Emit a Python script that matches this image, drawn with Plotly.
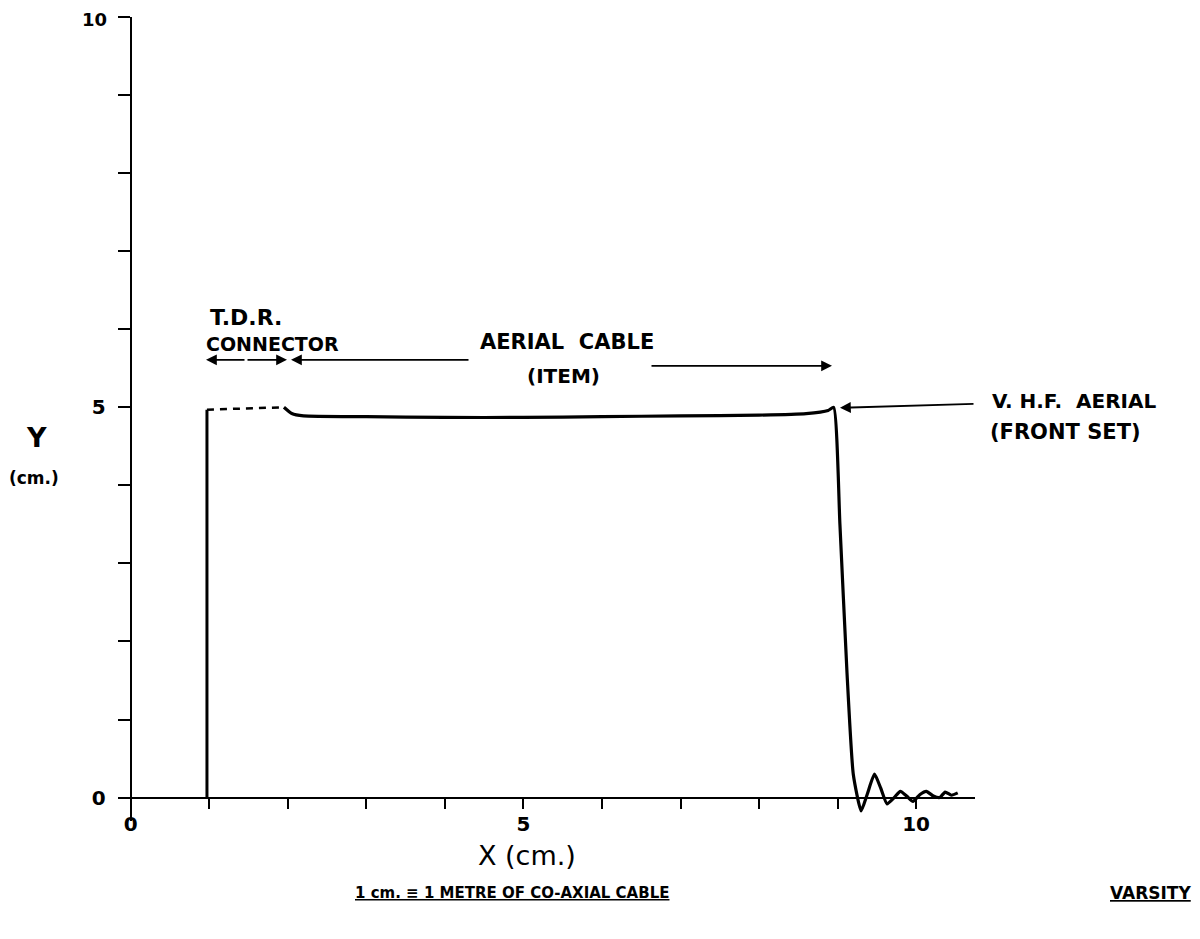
import plotly.graph_objects as go

# ---------------- data ----------------
# step rise at the T.D.R. connector
rise_x = [0.97, 0.97]
rise_y = [0.0, 4.97]
# dashed connector section
conn_x = [0.97, 1.95]
conn_y = [4.97, 5.0]
# aerial cable section, fall and ringing
cable_x = [1.95, 2.05, 2.2, 3.0, 4.0, 5.0, 6.0, 7.0, 8.0, 8.6, 8.88, 8.95,
           9.03, 9.12, 9.2, 9.3, 9.38, 9.47, 9.55, 9.63, 9.72, 9.8, 9.88,
           9.96, 10.05, 10.13, 10.22, 10.3, 10.37, 10.45, 10.53]
cable_y = [5.0, 4.92, 4.89, 4.88, 4.87, 4.87, 4.88, 4.89, 4.9, 4.92, 4.96, 5.0,
           3.5, 1.6, 0.3, -0.17, 0.05, 0.3, 0.12, -0.08, 0.0, 0.08, 0.02,
           -0.05, 0.04, 0.08, 0.02, 0.0, 0.07, 0.03, 0.06]

x_ticks = list(range(0, 11))
x_ticklabels = ["0", "", "", "", "", "5", "", "", "", "", "10"]
y_ticks = list(range(0, 11))
# top label "10" is drawn separately so it stays inside the page
y_ticklabels = ["0", "", "", "", "", "5", "", "", "", "", ""]
y_top_label = "10"

x_range = [-0.15, 10.75]
y_range = [-0.3, 10.0]

FONT = "DejaVu Sans"
BLACK = "#000000"

# page layout (page pixels); the browser's body margin shifts the figure by 8px
OFF = 8
W, H = 1184, 923
plot_left, plot_right = 119, 975          # page px for x_range ends
plot_top, plot_bottom = 17, 821.4         # page px for y_range ends
L = plot_left - OFF
R = W - (plot_right - OFF)
T = plot_top - OFF
B = H - (plot_bottom - OFF)

fig = go.Figure()
fig.add_trace(go.Scatter(x=rise_x, y=rise_y, mode="lines",
                         line=dict(color=BLACK, width=3),
                         showlegend=False, hoverinfo="skip"))
fig.add_trace(go.Scatter(x=conn_x, y=conn_y, mode="lines",
                         line=dict(color=BLACK, width=2.5, dash="7px,6px"),
                         showlegend=False, hoverinfo="skip"))
fig.add_trace(go.Scatter(x=cable_x, y=cable_y, mode="lines",
                         line=dict(color=BLACK, width=3.2, shape="spline", smoothing=0.5),
                         showlegend=False, hoverinfo="skip"))

# axis positions (axes cross at data 0,0)
x_pos_paper = (0 - y_range[0]) / (y_range[1] - y_range[0])
y_pos_paper = (0 - x_range[0]) / (x_range[1] - x_range[0])

tickfont = dict(family=FONT, size=20, color=BLACK, weight="bold")

fig.update_layout(
    width=W, height=H,
    margin=dict(l=L, r=R, t=T, b=B, pad=0, autoexpand=False),
    paper_bgcolor="white", plot_bgcolor="white",
    xaxis=dict(range=x_range, showgrid=False, zeroline=False,
               showline=True, linecolor=BLACK, linewidth=2,
               anchor="free", position=x_pos_paper, automargin=False,
               tickmode="array", tickvals=x_ticks, ticktext=x_ticklabels,
               ticks="outside", ticklen=10, tickwidth=2, tickcolor=BLACK,
               tickfont=tickfont, ticklabelstandoff=-2,
               ticklabeloverflow="allow"),
    yaxis=dict(range=y_range, showgrid=False, zeroline=False,
               showline=True, linecolor=BLACK, linewidth=2,
               anchor="free", position=y_pos_paper, automargin=False,
               tickmode="array", tickvals=y_ticks, ticktext=y_ticklabels,
               ticks="outside", ticklen=12, tickwidth=2, tickcolor=BLACK,
               tickfont=tickfont, ticklabelstandoff=8,
               ticklabeloverflow="allow"),
)


def px2x(px):
    return x_range[0] + (px - plot_left) / (plot_right - plot_left) * (x_range[1] - x_range[0])


def py2y(py):
    return y_range[1] - (py - plot_top) / (plot_bottom - plot_top) * (y_range[1] - y_range[0])


def page_text(px, py, s, size, xanchor="center"):
    xp = (px - plot_left) / (plot_right - plot_left)
    yp = (plot_bottom - py) / (plot_bottom - plot_top)
    fig.add_annotation(x=xp, y=yp, xref="paper", yref="paper",
                       text=s, showarrow=False, xanchor=xanchor, yanchor="middle",
                       font=dict(family=FONT, size=size, color=BLACK))


def arrow(x0, y0, x1, y1):
    # arrow pointing to (x1, y1) from (x0, y0), page px
    fig.add_annotation(x=px2x(x1), y=py2y(y1), ax=px2x(x0), ay=py2y(y0),
                       xref="x", yref="y", axref="x", ayref="y", text="",
                       showarrow=True, arrowhead=2, arrowsize=1.2, arrowwidth=1.8,
                       arrowcolor=BLACK, standoff=0, startstandoff=0)


# top y tick label
page_text(94, 20, "<b>" + y_top_label + "</b>", 18)

# labels above the trace
page_text(246, 318, "<b>T.D.R.</b>", 22)
page_text(272, 344, "<b>CONNECTOR</b>", 19)
arrow(246, 360, 206, 360)
arrow(246, 360, 287, 360)
arrow(470, 360, 291, 360)
page_text(567, 342, "<b>AERIAL  CABLE</b>", 21)
page_text(563, 376, "<b>(ITEM)</b>", 20)
arrow(650, 366, 832, 366)
# V.H.F. aerial annotation
arrow(975, 404, 840, 408)
page_text(990, 401, "<b>V. H.F.  AERIAL</b>", 20, xanchor="left")
page_text(988, 432, "<b>(FRONT SET)</b>", 21, xanchor="left")

# axis titles and footer
page_text(36, 438, "<b>Y</b>", 27)
page_text(34, 478, "<b>(cm.)</b>", 17)
page_text(527, 856, "X (cm.)", 27)
page_text(512, 893, "<b><u>1 cm. ≡ 1 METRE OF CO-AXIAL CABLE</u></b>", 15)
page_text(1150, 893, "<b><u>VARSITY</u></b>", 17)

fig.write_html("out.html")
